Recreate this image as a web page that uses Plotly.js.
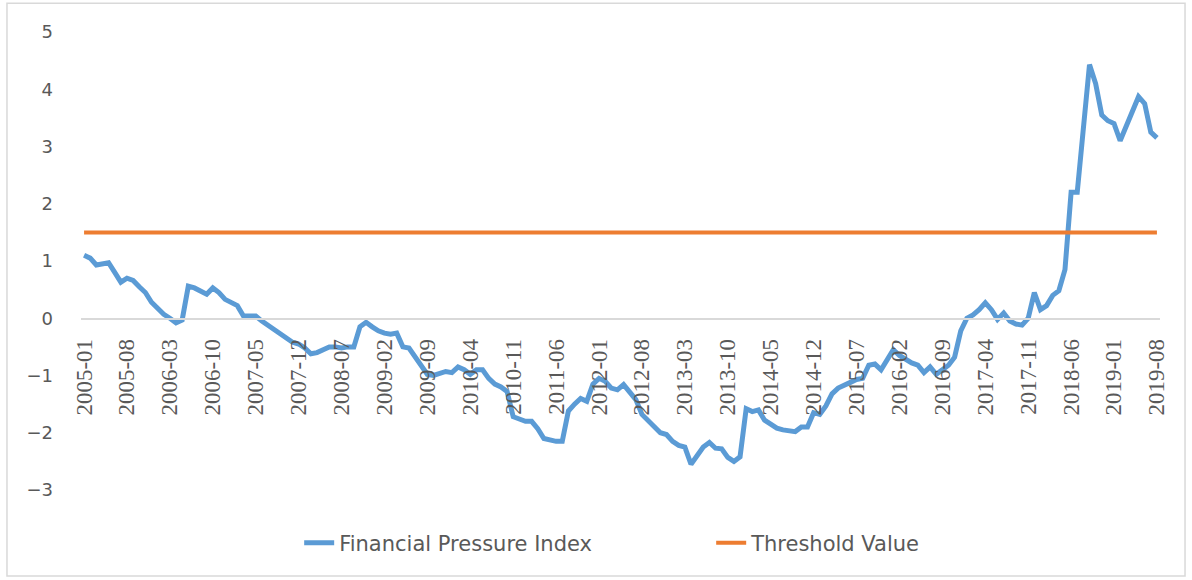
<!DOCTYPE html>
<html>
<head>
<meta charset="utf-8">
<script src="https://cdn.plot.ly/plotly-3.0.1.min.js"></script>
<style>
  html, body { margin: 0; padding: 0; background: #ffffff; }
  #chart { width: 1192px; height: 580px; }
</style>
</head>
<body>
<div id="chart"></div>
<script>
// Monthly categories 2005-01 .. 2019-08
const startYear = 2005, startMonth = 1, monthCount = 176;
const months = [];
for (let k = 0; k < monthCount; k++) {
  const m0 = startMonth - 1 + k;
  const y = startYear + Math.floor(m0 / 12);
  const m = (m0 % 12) + 1;
  months.push(y + '-' + (m < 10 ? '0' + m : '' + m));
}

// Tick labels shown on the category axis (every 7th month)
const tickLabels = [
  '2005-01','2005-08','2006-03','2006-10','2007-05','2007-12','2008-07','2009-02',
  '2009-09','2010-04','2010-11','2011-06','2012-01','2012-08','2013-03','2013-10',
  '2014-05','2014-12','2015-07','2016-02','2016-09','2017-04','2017-11','2018-06',
  '2019-01','2019-08'
];

// Financial Pressure Index
const fpiValues = [
  1.10, 1.05, 0.93, 0.95, 0.97, 0.80, 0.63, 0.70, 0.66, 0.55,
  0.45, 0.28, 0.17, 0.07, 0.00, -0.08, -0.03, 0.56, 0.53, 0.48,
  0.42, 0.53, 0.45, 0.33, 0.27, 0.22, 0.04, 0.05, 0.04, -0.05,
  -0.12, -0.20, -0.27, -0.35, -0.42, -0.45, -0.52, -0.62, -0.60, -0.55,
  -0.50, -0.50, -0.52, -0.50, -0.50, -0.15, -0.07, -0.15, -0.22, -0.26,
  -0.28, -0.26, -0.50, -0.52, -0.68, -0.85, -0.98, -1.00, -0.97, -0.93,
  -0.95, -0.85, -0.90, -0.98, -0.90, -0.90, -1.05, -1.15, -1.20, -1.28,
  -1.72, -1.75, -1.80, -1.80, -1.93, -2.10, -2.13, -2.15, -2.15, -1.62,
  -1.50, -1.40, -1.45, -1.15, -1.05, -1.10, -1.22, -1.25, -1.16, -1.28,
  -1.42, -1.68, -1.78, -1.90, -2.00, -2.03, -2.15, -2.22, -2.25, -2.55,
  -2.40, -2.25, -2.17, -2.27, -2.28, -2.43, -2.50, -2.42, -1.58, -1.63,
  -1.60, -1.78, -1.85, -1.92, -1.95, -1.97, -1.98, -1.90, -1.90, -1.65,
  -1.68, -1.53, -1.32, -1.22, -1.18, -1.12, -1.07, -1.05, -0.82, -0.80,
  -0.90, -0.72, -0.55, -0.65, -0.72, -0.78, -0.82, -0.95, -0.85, -0.98,
  -0.90, -0.82, -0.68, -0.22, 0.00, 0.06, 0.15, 0.27, 0.15, -0.02,
  0.09, -0.05, -0.10, -0.12, 0.00, 0.45, 0.15, 0.22, 0.40, 0.48,
  0.85, 2.20, 2.20, 3.30, 4.43, 4.10, 3.55, 3.45, 3.40, 3.10,
  3.35, 3.65, 3.87, 3.75, 3.25, 3.15
];

// Threshold value (constant)
const thresholdValue = 1.5;
const thresholdSeries = months.map(() => thresholdValue);

const yTicks = [-3, -2, -1, 0, 1, 2, 3, 4, 5];

const traces = [
  {
    type: 'scatter', mode: 'lines', name: 'Financial Pressure Index',
    x: months, y: fpiValues,
    line: { color: '#5B9BD5', width: 5, shape: 'linear' },
    hoverinfo: 'x+y'
  },
  {
    type: 'scatter', mode: 'lines', name: 'Threshold Value',
    x: months, y: thresholdSeries,
    line: { color: '#ED7D31', width: 4 },
    hoverinfo: 'x+y'
  }
];

const layout = {
  width: 1192, height: 580,
  margin: { l: 81, r: 32, t: 32, b: 90, autoexpand: false },
  paper_bgcolor: '#ffffff', plot_bgcolor: '#ffffff',
  showlegend: true,
  legend: {
    orientation: 'h', x: 0.2022, xanchor: 'left', y: -0.116, yanchor: 'middle',
    font: { family: 'DejaVu Sans, sans-serif', size: 21, color: '#595959' },
    entrywidth: 367, entrywidthmode: 'pixels', traceorder: 'normal'
  },
  xaxis: {
    type: 'category',
    categoryorder: 'array', categoryarray: months,
    range: [-0.5, monthCount - 0.5],
    tickmode: 'array', tickvals: tickLabels, ticktext: tickLabels,
    tickangle: -90,
    tickfont: { family: 'Liberation Serif, serif', size: 23, color: '#595959' },
    ticks: '', ticklabelstandoff: 10,
    showgrid: false, zeroline: false,
    showline: true, linecolor: '#D9D9D9', linewidth: 1.5,
    anchor: 'free', position: 0.375,
    fixedrange: true
  },
  yaxis: {
    range: [-3, 5],
    tickmode: 'array', tickvals: yTicks,
    tickfont: { family: 'DejaVu Sans, sans-serif', size: 18, color: '#595959' },
    showgrid: false, zeroline: false, showline: false, ticks: '',
    ticklabelstandoff: 27,
    fixedrange: true
  },
  shapes: [
    {
      type: 'rect', xref: 'paper', yref: 'paper',
      x0: -0.0686, x1: 1.0232, y0: -0.188, y1: 1.063,
      line: { color: '#D9D9D9', width: 1.5 }, fillcolor: 'rgba(0,0,0,0)',
      layer: 'below'
    }
  ]
};

Plotly.newPlot('chart', traces, layout, { displayModeBar: false, staticPlot: true });
</script>
</body>
</html>
